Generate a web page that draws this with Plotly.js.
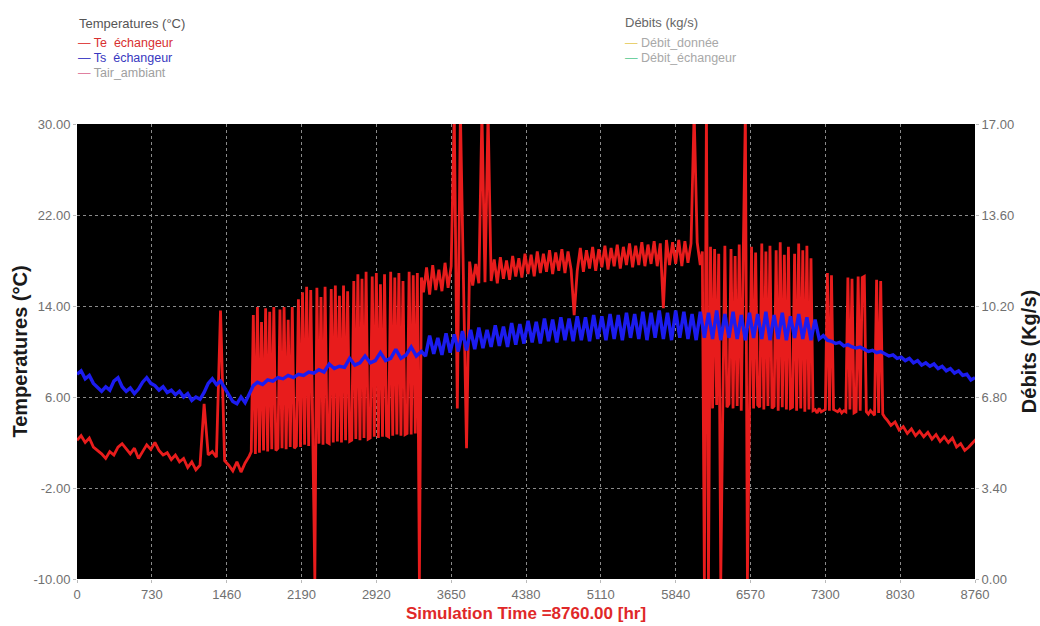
<!DOCTYPE html>
<html>
<head>
<meta charset="utf-8">
<script src="https://cdn.plot.ly/plotly-3.0.1.min.js"></script>
<style>html,body{margin:0;padding:0;background:#fff;}#chart{width:1040px;height:626px;}</style>
</head>
<body>
<div id="chart"></div>
<script>
// ---- tick labels ----
const xTickVals = [0,730,1460,2190,2920,3650,4380,5110,5840,6570,7300,8030,8760];
const xTickText = ["0","730","1460","2190","2920","3650","4380","5110","5840","6570","7300","8030","8760"];
const yTickVals = [-10,-2,6,14,22,30];
const yTickText = ["-10.00","-2.00","6.00","14.00","22.00","30.00"];
const y2TickVals = [0,3.4,6.8,10.2,13.6,17];
const y2TickText = ["0.00","3.40","6.80","10.20","13.60","17.00"];

// ---- Te échangeur (°C), hourly segments ----
const teA = [2.2,2.6,2.0,2.4,1.6,1.3,1.0,0.6,1.2,0.9,
  1.6,1.9,1.4,1.0,1.5,0.6,1.2,1.8,1.4,2.0,
  1.3,0.9,1.1,0.5,0.9,0.3,0.6,-0.2,0.3,-0.4,
  0.0,5.4,0.9,1.2,0.7,13.6,0.4,0.0,-0.5,0.3,
  -0.6,0.2,0.8];                       // from 0 h, every 40 h
const teB = [1.2,13.2,1.0,13.9,1.1,12.6,1.3,13.8,1.2,13.5,
  1.4,13.9,1.3,1.5,13.7,1.5,13.9,1.4,12.8,1.6,
  13.9,1.5,1.7,14.6,1.6,15.2,1.8,15.7,1.7,15.4,
  1.8,-10.0,15.6,1.9,14.8,1.8,15.7,2.0,1.9,15.5,
  2.0,15.8,2.1,14.9,2.0,15.8,2.2,15.3,2.1,2.2,
  16.2,2.3,16.8,2.2,16.4,2.4,17.0,2.3,2.4,16.6,
  2.5,16.9,2.4,15.9,2.5,16.8,2.6,2.5,17.0,2.6,
  16.5,2.7,16.9,2.6,16.2,2.7,2.8,17.0,2.7,16.7,
  2.8,16.9,-10.0,16.5];                // from 1700 h, every 20 h
const teC = [15.2,17.4,15.0,17.6,15.4,17.2,15.3,17.8,15.6,17.5,
  31,5.0,31,17.6,1.5,17.9,15.8,17.7,16.0,31,
  16.1,31,16.2,18.1,16.0,18.3,16.4,18.0,16.3,18.4,
  16.6,18.2,16.5,18.6,16.8,18.5,16.6,18.8,16.9,18.6,
  17.0,18.9,16.8,18.7,17.1,19.0,16.9,18.8,17.2,13.2,
  17.1,19.1,17.0,18.9,17.3,19.2,17.1,19.0,17.4,19.3,
  17.2,19.1,17.5,19.4,17.3,19.2,17.6,19.5,17.4,19.3,
  17.6,19.6,17.5,19.4,17.7,19.7,17.5,19.5,13.8,19.8,
  17.6,19.6,17.7,19.8,17.5,19.7,17.8,19.5,31,19.6,
  17.6];                               // from 3380 h, every 30 h
const teD = [18.8,-10,31,-10,19.2,5.0,19.0,5.3,18.6,-10,
  5.2,19.3,5.1,5.4,19.0,5.0,18.4,5.2,19.4,4.8,
  18.9,31,-10,5.1,19.2,5.0,18.7,5.3,5.1,19.5,
  4.9,18.8,5.2,19.3,5.0,5.2,18.9,4.8,19.6,5.1,
  18.5,4.9,19.2,5.0,5.1,18.6,4.8,19.5,5.0,18.9,
  4.7,19.3,4.9,18.2,4.8,4.9,4.6,5.0,4.7,4.8]; // from 6100 h, every 20 h
const teE1 = [4.9,16.9,4.8,16.7,4.9,4.8,4.7,4.9,4.6,4.8,
  4.7,16.5,4.9,16.4,4.6,4.7,16.6,4.8,16.5,16.6,
  4.7,4.5,4.8,4.6,4.4,16.3,4.6,16.2,4.5,4.2]; // from 7300 h, every 20 h
const teE2 = [4.0,3.5,3.8,3.1,3.4,2.8,3.2,2.6,3.0,2.5,
  2.9,2.3,2.7,2.1,2.5,2.0,2.4,1.6,1.9,1.3,
  1.6,2.0,2.4];                        // from 7900 h, every 40 h

// ---- Ts échangeur (°C) ----
const tsA = [8.0,8.3,7.6,7.9,7.2,6.8,6.5,6.9,6.6,7.4,
  7.7,6.9,6.5,6.8,6.3,6.7,7.3,7.7,7.2,7.0,
  6.6,6.9,6.4,6.6,6.2,6.5,6.0,6.3,5.7,6.0,
  5.8,6.4,7.2,7.6,7.1,7.4,6.8,6.2,5.6,5.4,
  6.0,5.5,6.3,7.0];                    // from 0 h, every 40 h
const tsB = [7.3,7.1,7.5,7.4,7.7,7.6,7.9,7.7,8.0,7.9,
  8.2,8.1,8.4,8.2,8.9,8.5,8.7,8.6,9.4,8.8,
  9.0,9.6,9.0,9.2,9.9,9.2,9.4,10.2,9.4,9.7,
  10.4,9.6,10.0];                      // from 1760 h, every 50 h
const tsC = [9.6,11.4,9.8,11.2,9.7,11.6,9.9,11.5,10.0,11.8,
  10.1,11.9,10.2,12.1,10.3,11.9,10.4,12.3,10.5,12.2,
  10.4,12.5,10.6,12.4,10.7,12.7,10.8,12.6,10.7,12.9,
  10.9,12.8,10.8,13.0,11.0,12.9,10.9,13.1,11.0,13.0,
  10.9,13.2,11.1,13.1,11.0,13.3,11.1,13.2,11.0,13.4,
  11.2,13.3,11.1,13.5,11.0,13.4,11.2,13.6,11.1,13.4,
  11.0,13.6,11.2,13.5,11.1,13.3,11.0,13.5,11.2,13.4,
  11.1,13.6,11.0,13.3,11.2,13.5,11.1,13.2,11.0,13.4,
  11.2,13.3,11.1,13.5,11.0,13.2,11.1,13.4,11.0,13.1,
  11.2,13.3,11.1,13.0,11.0,12.8,11.1,11.4]; // from 3400 h, every 40 h
const tsD = [11.0,10.9,10.7,10.8,10.5,10.6,10.4,10.3,10.4,10.2,
  10.0,10.1,9.9,10.0,9.8,9.6,9.7,9.4,9.5,9.2,
  9.4,9.0,9.2,8.8,9.0,8.7,8.9,8.5,8.7,8.3,
  8.5,8.1,8.3,7.9,8.0,7.5,7.7];        // from 7320 h, every 40 h

// débits: not visible in the picture
const debitDonnee = [];
const debitEchangeur = [];

function seg(start, step, vals) {
  return { x: vals.map((_, i) => start + i * step), y: vals.slice() };
}
function join(parts) {
  const out = { x: [], y: [] };
  parts.forEach(p => { out.x.push(...p.x); out.y.push(...p.y); });
  return out;
}
const te = join([seg(0,40,teA), seg(1700,20,teB), seg(3380,30,teC), seg(6100,20,teD), seg(7300,20,teE1), seg(7900,40,teE2)]);
const ts = join([seg(0,40,tsA), seg(1760,50,tsB), seg(3400,40,tsC), seg(7320,40,tsD)]);

const FONT = "Liberation Sans, Arial, sans-serif";

const traces = [
  { type: 'scatter', mode: 'lines', name: 'Te échangeur', x: te.x, y: te.y,
    line: { color: '#e81c1c', width: 2.8 }, showlegend: false, hoverinfo: 'skip' },
  { type: 'scatter', mode: 'lines', name: 'Ts échangeur', x: ts.x, y: ts.y,
    line: { color: '#1c1cf0', width: 3.4 }, showlegend: false, hoverinfo: 'skip' },
  { type: 'scatter', mode: 'lines', name: 'Débit_donnée', x: [], y: debitDonnee, yaxis: 'y2',
    line: { color: '#e8d070', width: 1.5 }, showlegend: false },
  { type: 'scatter', mode: 'lines', name: 'Débit_échangeur', x: [], y: debitEchangeur, yaxis: 'y2',
    line: { color: '#70d0a0', width: 1.5 }, showlegend: false }
];

function py(pix) { return (579 - pix) / 455; }
function px(pix) { return (pix - 77) / 898; }

const ann = [];
function addAnn(x, y, text, color, size) {
  ann.push({ xref: 'paper', yref: 'paper', x: px(x), y: py(y), xanchor: 'left', yanchor: 'middle',
    text: text, showarrow: false, font: { family: FONT, size: size || 12.5, color: color } });
}
addAnn(77, 24, 'Temperatures (°C)', '#555555', 13);
addAnn(76, 43, "<span style='color:#e04848'>—</span> Te\u00a0\u00a0échangeur", '#d83030');
addAnn(76, 58, "<span style='color:#4848c8'>—</span> Ts\u00a0\u00a0échangeur", '#3838c0');
addAnn(76, 73, "<span style='color:#e080a0'>—</span> Tair_ambiant", '#a0a0a0');
addAnn(623, 23, 'Débits (kg/s)', '#666666', 13);
addAnn(623, 43, "<span style='color:#e8d070'>—</span> Débit_donnée", '#a8a8a8');
addAnn(623, 58, "<span style='color:#70d0a0'>—</span> Débit_échangeur", '#a8a8a8');

const layout = {
  width: 1040, height: 626,
  margin: { l: 77, r: 65, t: 124, b: 47, pad: 0 },
  paper_bgcolor: '#ffffff', plot_bgcolor: '#000000',
  font: { family: FONT, size: 13, color: '#707070' },
  showlegend: false,
  xaxis: {
    range: [0, 8760], tickvals: xTickVals, ticktext: xTickText,
    showgrid: true, gridcolor: '#8a8a8a', griddash: 'dot', gridwidth: 1,
    zeroline: false, showline: false, ticks: 'outside', ticklen: 3, tickcolor: '#bbbbbb',
    tickfont: { family: FONT, size: 13, color: '#707070' },
    title: { text: '<b>Simulation Time =8760.00 [hr]</b>', font: { family: FONT, size: 17, color: '#e02828' }, standoff: 6 }
  },
  yaxis: {
    range: [-10, 30], tickvals: yTickVals, ticktext: yTickText,
    showgrid: true, gridcolor: '#8a8a8a', griddash: 'dot', gridwidth: 1,
    zeroline: false, showline: false, ticks: 'outside', ticklen: 3, tickcolor: '#bbbbbb',
    tickfont: { family: FONT, size: 13, color: '#707070' },
    title: { text: '<b>Temperatures (°C)</b>', font: { family: FONT, size: 20, color: '#1a1a1a' }, standoff: 0 }
  },
  yaxis2: {
    range: [0, 17], tickvals: y2TickVals, ticktext: y2TickText,
    overlaying: 'y', side: 'right', anchor: 'x',
    showgrid: false, zeroline: false, showline: false, ticks: 'outside', ticklen: 3, tickcolor: '#bbbbbb',
    tickfont: { family: FONT, size: 13, color: '#707070' },
    title: { text: '<b>Débits (Kg/s)</b>', font: { family: FONT, size: 20, color: '#1a1a1a' }, standoff: 8 }
  },
  annotations: ann
};

Plotly.newPlot('chart', traces, layout, { staticPlot: true, displayModeBar: false });
</script>
</body>
</html>
